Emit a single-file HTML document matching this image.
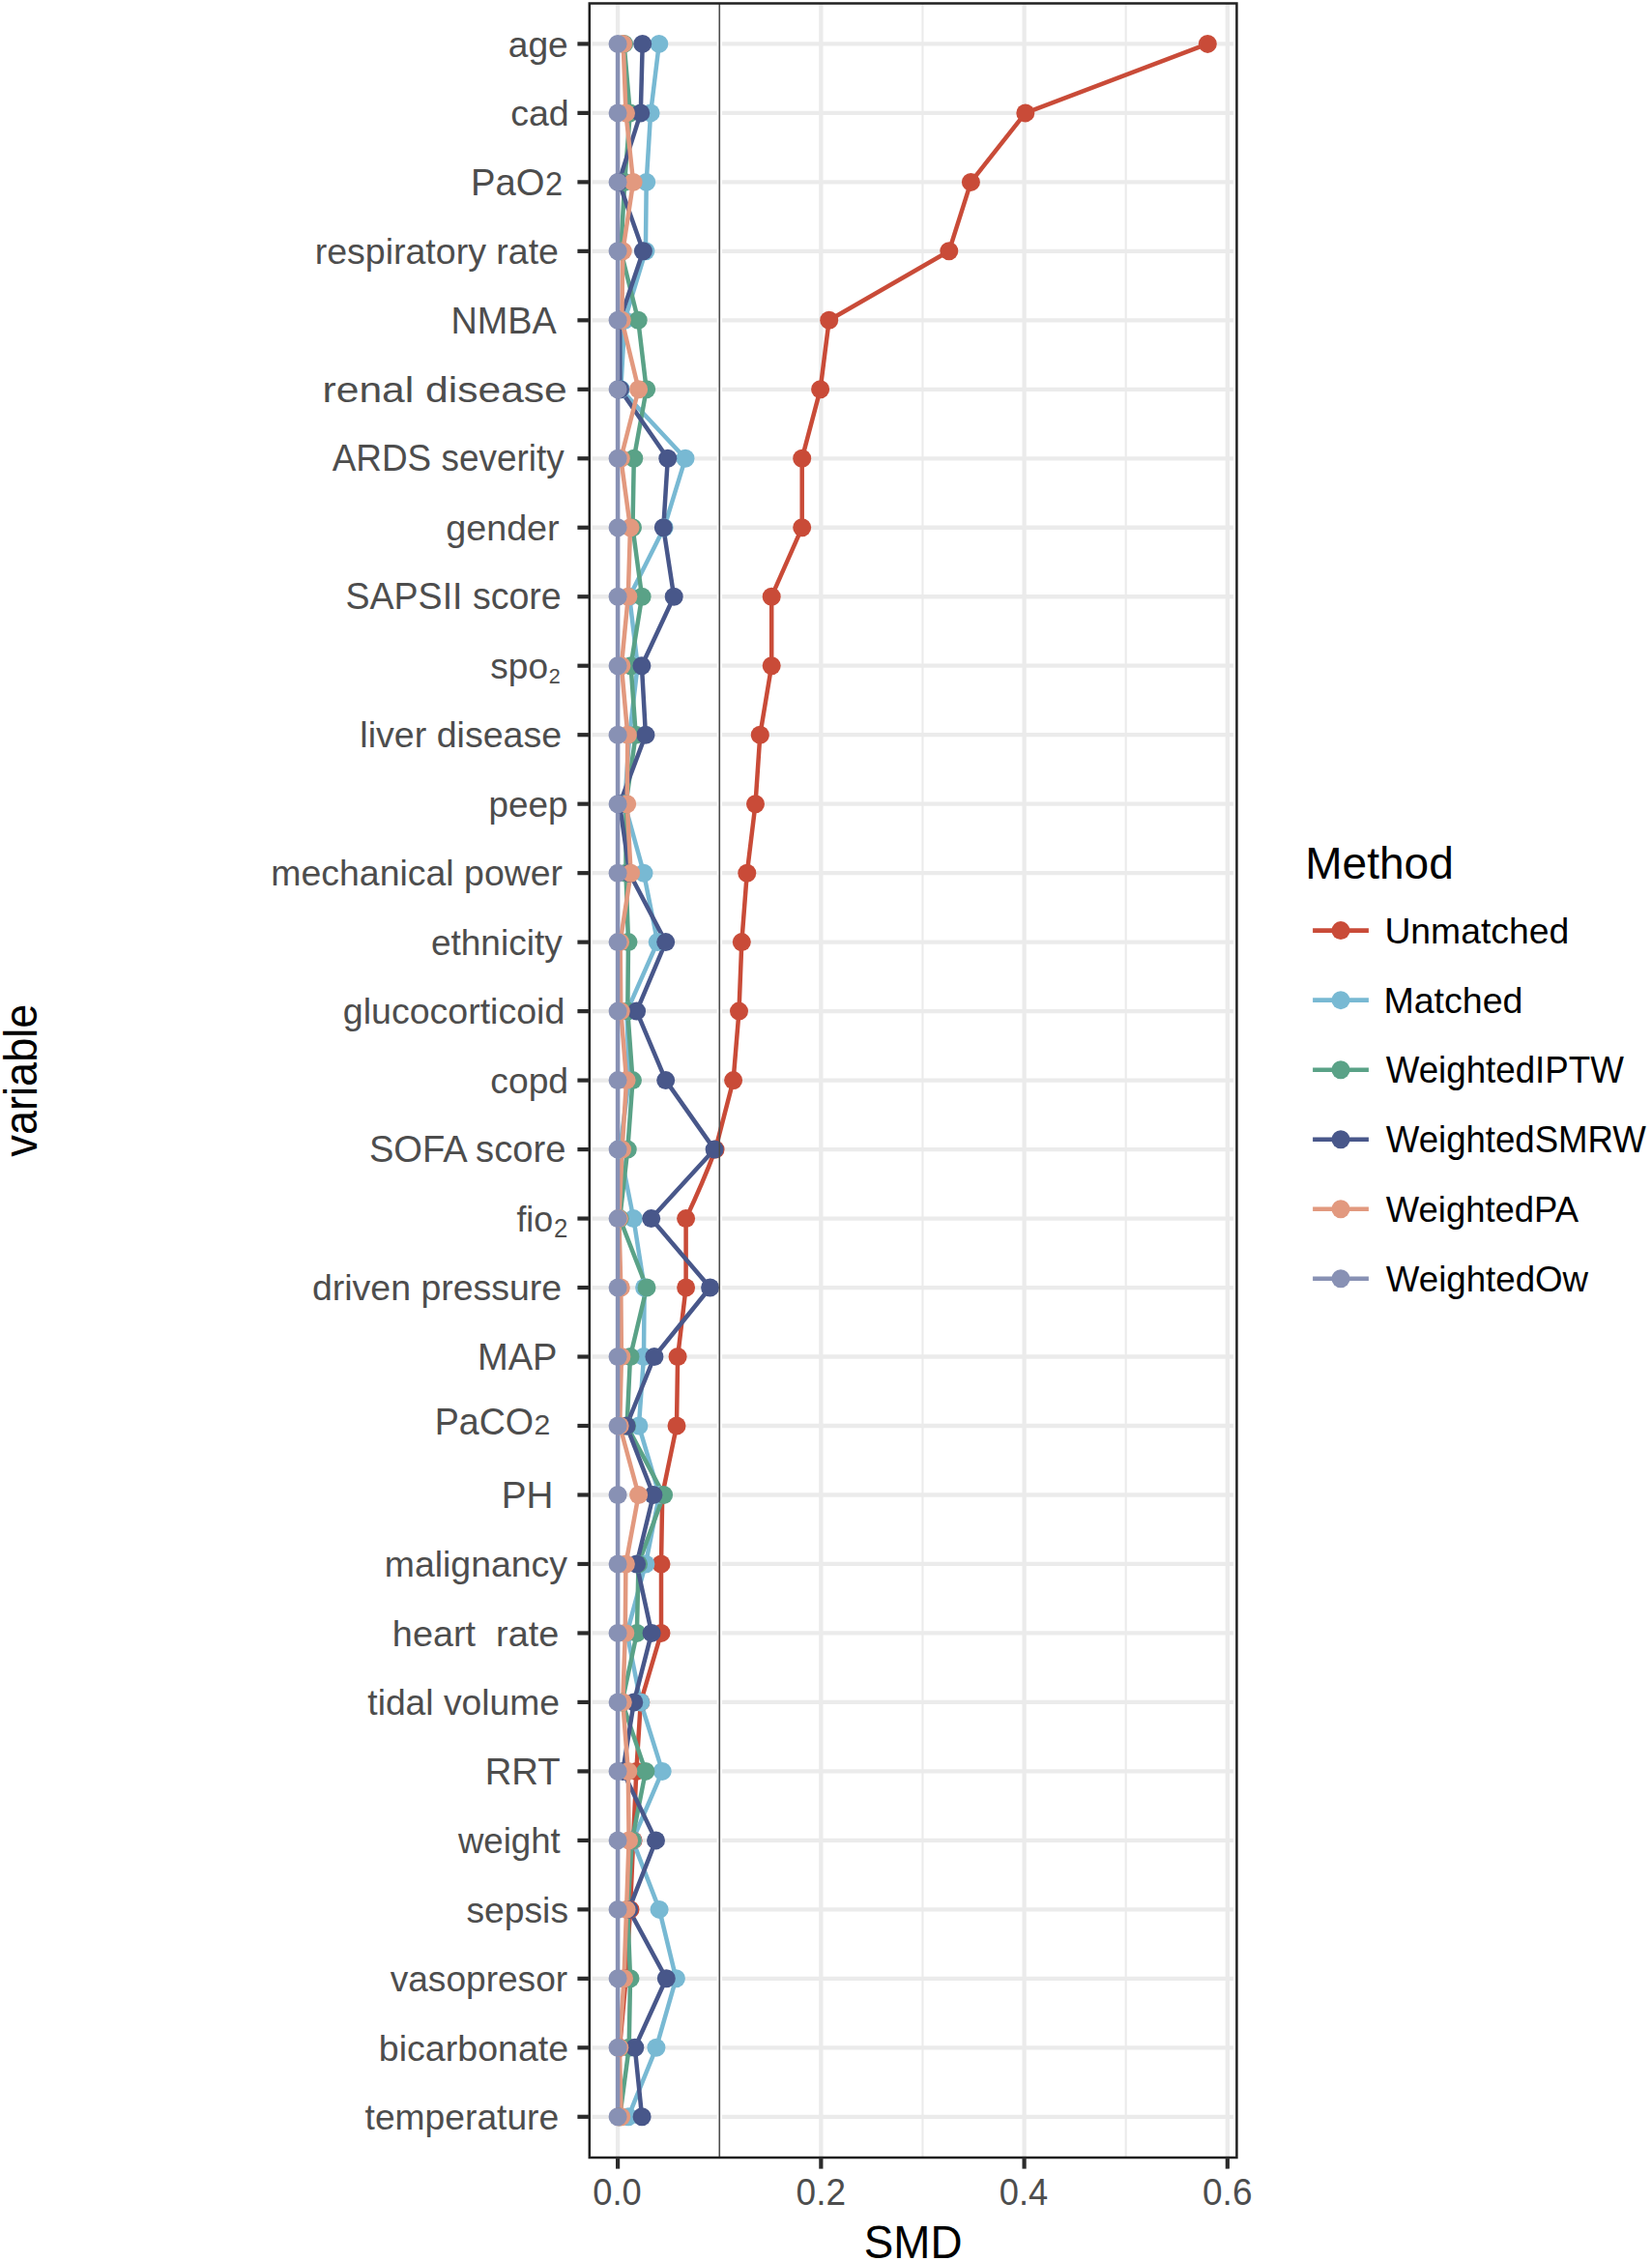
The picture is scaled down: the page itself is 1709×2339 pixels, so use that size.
<!DOCTYPE html>
<html lang="en"><head><meta charset="utf-8"><title>SMD balance plot</title>
<style>html,body{margin:0;padding:0;background:#fff}body{width:1709px;height:2339px;overflow:hidden}</style>
</head><body>
<svg width="1709" height="2339" viewBox="0 0 1709 2339" font-family='"Liberation Sans", Arial, sans-serif' style="display:block">
<rect width="1709" height="2339" fill="#fff"/>
<g stroke="#EBEBEB" fill="none">
<line x1="744.22" x2="744.22" y1="3.5" y2="2232.0" stroke-width="2.1"/>
<line x1="954.46" x2="954.46" y1="3.5" y2="2232.0" stroke-width="2.1"/>
<line x1="1164.70" x2="1164.70" y1="3.5" y2="2232.0" stroke-width="2.1"/>
<line x1="639.10" x2="639.10" y1="3.5" y2="2232.0" stroke-width="4.3"/>
<line x1="849.34" x2="849.34" y1="3.5" y2="2232.0" stroke-width="4.3"/>
<line x1="1059.58" x2="1059.58" y1="3.5" y2="2232.0" stroke-width="4.3"/>
<line x1="1269.82" x2="1269.82" y1="3.5" y2="2232.0" stroke-width="4.3"/>
<path d="M612.8 45.40H741.6M747.1 45.40H1275.8" stroke-width="4.3"/>
<path d="M612.8 116.88H741.6M747.1 116.88H1275.8" stroke-width="4.3"/>
<path d="M612.8 188.36H741.6M747.1 188.36H1275.8" stroke-width="4.3"/>
<path d="M612.8 259.84H741.6M747.1 259.84H1275.8" stroke-width="4.3"/>
<path d="M612.8 331.32H741.6M747.1 331.32H1275.8" stroke-width="4.3"/>
<path d="M612.8 402.80H741.6M747.1 402.80H1275.8" stroke-width="4.3"/>
<path d="M612.8 474.28H741.6M747.1 474.28H1275.8" stroke-width="4.3"/>
<path d="M612.8 545.76H741.6M747.1 545.76H1275.8" stroke-width="4.3"/>
<path d="M612.8 617.24H741.6M747.1 617.24H1275.8" stroke-width="4.3"/>
<path d="M612.8 688.72H741.6M747.1 688.72H1275.8" stroke-width="4.3"/>
<path d="M612.8 760.20H741.6M747.1 760.20H1275.8" stroke-width="4.3"/>
<path d="M612.8 831.68H741.6M747.1 831.68H1275.8" stroke-width="4.3"/>
<path d="M612.8 903.16H741.6M747.1 903.16H1275.8" stroke-width="4.3"/>
<path d="M612.8 974.64H741.6M747.1 974.64H1275.8" stroke-width="4.3"/>
<path d="M612.8 1046.12H741.6M747.1 1046.12H1275.8" stroke-width="4.3"/>
<path d="M612.8 1117.60H741.6M747.1 1117.60H1275.8" stroke-width="4.3"/>
<path d="M612.8 1189.08H741.6M747.1 1189.08H1275.8" stroke-width="4.3"/>
<path d="M612.8 1260.56H741.6M747.1 1260.56H1275.8" stroke-width="4.3"/>
<path d="M612.8 1332.04H741.6M747.1 1332.04H1275.8" stroke-width="4.3"/>
<path d="M612.8 1403.52H741.6M747.1 1403.52H1275.8" stroke-width="4.3"/>
<path d="M612.8 1475.00H741.6M747.1 1475.00H1275.8" stroke-width="4.3"/>
<path d="M612.8 1546.48H741.6M747.1 1546.48H1275.8" stroke-width="4.3"/>
<path d="M612.8 1617.96H741.6M747.1 1617.96H1275.8" stroke-width="4.3"/>
<path d="M612.8 1689.44H741.6M747.1 1689.44H1275.8" stroke-width="4.3"/>
<path d="M612.8 1760.92H741.6M747.1 1760.92H1275.8" stroke-width="4.3"/>
<path d="M612.8 1832.40H741.6M747.1 1832.40H1275.8" stroke-width="4.3"/>
<path d="M612.8 1903.88H741.6M747.1 1903.88H1275.8" stroke-width="4.3"/>
<path d="M612.8 1975.36H741.6M747.1 1975.36H1275.8" stroke-width="4.3"/>
<path d="M612.8 2046.84H741.6M747.1 2046.84H1275.8" stroke-width="4.3"/>
<path d="M612.8 2118.32H741.6M747.1 2118.32H1275.8" stroke-width="4.3"/>
<path d="M612.8 2189.80H741.6M747.1 2189.80H1275.8" stroke-width="4.3"/>
</g>
<path d="M1249.3 45.4L1060.8 116.9L1004.4 188.4L981.8 259.8L857.7 331.3L848.6 402.8L829.7 474.3L829.7 545.8L798.2 617.2L798.2 688.7L786.3 760.2L781.5 831.7L772.8 903.2L767.3 974.6L764.5 1046.1L758.6 1117.6L740.1 1189.1Q726.9 1224.0 709.6 1260.6L709.6 1332.0L701.1 1403.5L700.0 1475.0L685.2 1546.5L684.0 1618.0L684.0 1689.4L662.8 1760.9L658.3 1832.4L655.1 1903.9L652.0 1975.4L647.5 2046.8L641.0 2118.3L640.2 2189.8" fill="none" stroke="#C94B38" stroke-width="4.5" stroke-linejoin="round" stroke-linecap="butt"/>
<path d="M681.8 45.4L673.1 116.9L668.7 188.4L667.9 259.8L646.2 331.3L642.3 402.8L709.0 474.3L687.1 545.8L651.2 617.2L659.6 688.7L651.2 760.2L646.2 831.7L666.0 903.2L680.2 974.6L648.6 1046.1L650.7 1117.6L641.2 1189.1L655.4 1260.6L666.6 1332.0L666.0 1403.5L660.9 1475.0L682.1 1546.5L667.9 1618.0L648.6 1689.4L662.8 1760.9L685.2 1832.4L654.5 1903.9L682.1 1975.4L699.4 2046.8L678.9 2118.3L650.0 2189.8" fill="none" stroke="#78B9D3" stroke-width="4.5" stroke-linejoin="round" stroke-linecap="butt"/>
<path d="M645.6 45.4L651.8 116.9L646.2 188.4L642.3 259.8L660.2 331.3L668.7 402.8L655.8 474.3L654.5 545.8L664.1 617.2L652.6 688.7L657.7 760.2L647.5 831.7L647.5 903.2L650.0 974.6L649.3 1046.1L654.5 1117.6L649.3 1189.1L641.2 1260.6L669.0 1332.0L652.0 1403.5L648.6 1475.0L686.6 1546.5L660.5 1618.0L658.9 1689.4L643.6 1760.9L667.9 1832.4L653.9 1903.9L649.3 1975.4L652.0 2046.8L650.7 2118.3L641.2 2189.8" fill="none" stroke="#5AA287" stroke-width="4.5" stroke-linejoin="round" stroke-linecap="butt"/>
<path d="M664.7 45.4L662.8 116.9L640.2 188.4L665.4 259.8L641.2 331.3L641.4 402.8L690.8 474.3L686.3 545.8L697.2 617.2L663.9 688.7L667.9 760.2L641.0 831.7L651.2 903.2L688.7 974.6L658.6 1046.1L688.7 1117.6L739.1 1189.1L673.7 1260.6L734.6 1332.0L676.9 1403.5L648.1 1475.0L675.9 1546.5L658.6 1618.0L674.1 1689.4L655.8 1760.9L644.3 1832.4L678.5 1903.9L650.6 1975.4L689.3 2046.8L656.8 2118.3L664.1 2189.8" fill="none" stroke="#48578A" stroke-width="4.5" stroke-linejoin="round" stroke-linecap="butt"/>
<path d="M644.7 45.4L647.5 116.9L655.1 188.4L644.3 259.8L643.3 331.3L660.6 402.8L642.3 474.3L652.0 545.8L649.8 617.2L642.9 688.7L649.3 760.2L648.7 831.7L652.6 903.2L641.6 974.6L642.3 1046.1L648.1 1117.6L643.6 1189.1L640.4 1260.6L642.3 1332.0L642.9 1403.5L641.2 1475.0L660.6 1546.5L647.4 1618.0L646.8 1689.4L644.3 1760.9L649.8 1832.4L650.6 1903.9L648.1 1975.4L645.5 2046.8L640.8 2118.3L642.7 2189.8" fill="none" stroke="#E2997F" stroke-width="4.5" stroke-linejoin="round" stroke-linecap="butt"/>
<path d="M639.1 45.4L639.1 116.9L639.1 188.4L639.1 259.8L639.1 331.3L639.1 402.8L639.1 474.3L639.1 545.8L639.1 617.2L639.1 688.7L639.1 760.2L639.1 831.7L639.1 903.2L639.1 974.6L639.1 1046.1L639.1 1117.6L639.1 1189.1L639.1 1260.6L639.1 1332.0L639.1 1403.5L639.1 1475.0L639.1 1546.5L639.1 1618.0L639.1 1689.4L639.1 1760.9L639.1 1832.4L639.1 1903.9L639.1 1975.4L639.1 2046.8L639.1 2118.3L639.1 2189.8" fill="none" stroke="#8891B4" stroke-width="4.5" stroke-linejoin="round" stroke-linecap="butt"/>
<g fill="#C94B38">
<circle cx="1249.3" cy="45.4" r="9.5"/>
<circle cx="1060.8" cy="116.9" r="9.5"/>
<circle cx="1004.4" cy="188.4" r="9.5"/>
<circle cx="981.8" cy="259.8" r="9.5"/>
<circle cx="857.7" cy="331.3" r="9.5"/>
<circle cx="848.6" cy="402.8" r="9.5"/>
<circle cx="829.7" cy="474.3" r="9.5"/>
<circle cx="829.7" cy="545.8" r="9.5"/>
<circle cx="798.2" cy="617.2" r="9.5"/>
<circle cx="798.2" cy="688.7" r="9.5"/>
<circle cx="786.3" cy="760.2" r="9.5"/>
<circle cx="781.5" cy="831.7" r="9.5"/>
<circle cx="772.8" cy="903.2" r="9.5"/>
<circle cx="767.3" cy="974.6" r="9.5"/>
<circle cx="764.5" cy="1046.1" r="9.5"/>
<circle cx="758.6" cy="1117.6" r="9.5"/>
<circle cx="740.1" cy="1189.1" r="9.5"/>
<circle cx="709.6" cy="1260.6" r="9.5"/>
<circle cx="709.6" cy="1332.0" r="9.5"/>
<circle cx="701.1" cy="1403.5" r="9.5"/>
<circle cx="700.0" cy="1475.0" r="9.5"/>
<circle cx="685.2" cy="1546.5" r="9.5"/>
<circle cx="684.0" cy="1618.0" r="9.5"/>
<circle cx="684.0" cy="1689.4" r="9.5"/>
<circle cx="662.8" cy="1760.9" r="9.5"/>
<circle cx="658.3" cy="1832.4" r="9.5"/>
<circle cx="655.1" cy="1903.9" r="9.5"/>
<circle cx="652.0" cy="1975.4" r="9.5"/>
<circle cx="647.5" cy="2046.8" r="9.5"/>
<circle cx="641.0" cy="2118.3" r="9.5"/>
<circle cx="640.2" cy="2189.8" r="9.5"/>
</g>
<g fill="#78B9D3">
<circle cx="681.8" cy="45.4" r="9.5"/>
<circle cx="673.1" cy="116.9" r="9.5"/>
<circle cx="668.7" cy="188.4" r="9.5"/>
<circle cx="667.9" cy="259.8" r="9.5"/>
<circle cx="646.2" cy="331.3" r="9.5"/>
<circle cx="642.3" cy="402.8" r="9.5"/>
<circle cx="709.0" cy="474.3" r="9.5"/>
<circle cx="687.1" cy="545.8" r="9.5"/>
<circle cx="651.2" cy="617.2" r="9.5"/>
<circle cx="659.6" cy="688.7" r="9.5"/>
<circle cx="651.2" cy="760.2" r="9.5"/>
<circle cx="646.2" cy="831.7" r="9.5"/>
<circle cx="666.0" cy="903.2" r="9.5"/>
<circle cx="680.2" cy="974.6" r="9.5"/>
<circle cx="648.6" cy="1046.1" r="9.5"/>
<circle cx="650.7" cy="1117.6" r="9.5"/>
<circle cx="641.2" cy="1189.1" r="9.5"/>
<circle cx="655.4" cy="1260.6" r="9.5"/>
<circle cx="666.6" cy="1332.0" r="9.5"/>
<circle cx="666.0" cy="1403.5" r="9.5"/>
<circle cx="660.9" cy="1475.0" r="9.5"/>
<circle cx="682.1" cy="1546.5" r="9.5"/>
<circle cx="667.9" cy="1618.0" r="9.5"/>
<circle cx="648.6" cy="1689.4" r="9.5"/>
<circle cx="662.8" cy="1760.9" r="9.5"/>
<circle cx="685.2" cy="1832.4" r="9.5"/>
<circle cx="654.5" cy="1903.9" r="9.5"/>
<circle cx="682.1" cy="1975.4" r="9.5"/>
<circle cx="699.4" cy="2046.8" r="9.5"/>
<circle cx="678.9" cy="2118.3" r="9.5"/>
<circle cx="650.0" cy="2189.8" r="9.5"/>
</g>
<g fill="#5AA287">
<circle cx="645.6" cy="45.4" r="9.5"/>
<circle cx="651.8" cy="116.9" r="9.5"/>
<circle cx="646.2" cy="188.4" r="9.5"/>
<circle cx="642.3" cy="259.8" r="9.5"/>
<circle cx="660.2" cy="331.3" r="9.5"/>
<circle cx="668.7" cy="402.8" r="9.5"/>
<circle cx="655.8" cy="474.3" r="9.5"/>
<circle cx="654.5" cy="545.8" r="9.5"/>
<circle cx="664.1" cy="617.2" r="9.5"/>
<circle cx="652.6" cy="688.7" r="9.5"/>
<circle cx="657.7" cy="760.2" r="9.5"/>
<circle cx="647.5" cy="831.7" r="9.5"/>
<circle cx="647.5" cy="903.2" r="9.5"/>
<circle cx="650.0" cy="974.6" r="9.5"/>
<circle cx="649.3" cy="1046.1" r="9.5"/>
<circle cx="654.5" cy="1117.6" r="9.5"/>
<circle cx="649.3" cy="1189.1" r="9.5"/>
<circle cx="641.2" cy="1260.6" r="9.5"/>
<circle cx="669.0" cy="1332.0" r="9.5"/>
<circle cx="652.0" cy="1403.5" r="9.5"/>
<circle cx="648.6" cy="1475.0" r="9.5"/>
<circle cx="686.6" cy="1546.5" r="9.5"/>
<circle cx="660.5" cy="1618.0" r="9.5"/>
<circle cx="658.9" cy="1689.4" r="9.5"/>
<circle cx="643.6" cy="1760.9" r="9.5"/>
<circle cx="667.9" cy="1832.4" r="9.5"/>
<circle cx="653.9" cy="1903.9" r="9.5"/>
<circle cx="649.3" cy="1975.4" r="9.5"/>
<circle cx="652.0" cy="2046.8" r="9.5"/>
<circle cx="650.7" cy="2118.3" r="9.5"/>
<circle cx="641.2" cy="2189.8" r="9.5"/>
</g>
<g fill="#48578A">
<circle cx="664.7" cy="45.4" r="9.5"/>
<circle cx="662.8" cy="116.9" r="9.5"/>
<circle cx="640.2" cy="188.4" r="9.5"/>
<circle cx="665.4" cy="259.8" r="9.5"/>
<circle cx="641.2" cy="331.3" r="9.5"/>
<circle cx="641.4" cy="402.8" r="9.5"/>
<circle cx="690.8" cy="474.3" r="9.5"/>
<circle cx="686.3" cy="545.8" r="9.5"/>
<circle cx="697.2" cy="617.2" r="9.5"/>
<circle cx="663.9" cy="688.7" r="9.5"/>
<circle cx="667.9" cy="760.2" r="9.5"/>
<circle cx="641.0" cy="831.7" r="9.5"/>
<circle cx="651.2" cy="903.2" r="9.5"/>
<circle cx="688.7" cy="974.6" r="9.5"/>
<circle cx="658.6" cy="1046.1" r="9.5"/>
<circle cx="688.7" cy="1117.6" r="9.5"/>
<circle cx="739.1" cy="1189.1" r="9.5"/>
<circle cx="673.7" cy="1260.6" r="9.5"/>
<circle cx="734.6" cy="1332.0" r="9.5"/>
<circle cx="676.9" cy="1403.5" r="9.5"/>
<circle cx="648.1" cy="1475.0" r="9.5"/>
<circle cx="675.9" cy="1546.5" r="9.5"/>
<circle cx="658.6" cy="1618.0" r="9.5"/>
<circle cx="674.1" cy="1689.4" r="9.5"/>
<circle cx="655.8" cy="1760.9" r="9.5"/>
<circle cx="644.3" cy="1832.4" r="9.5"/>
<circle cx="678.5" cy="1903.9" r="9.5"/>
<circle cx="650.6" cy="1975.4" r="9.5"/>
<circle cx="689.3" cy="2046.8" r="9.5"/>
<circle cx="656.8" cy="2118.3" r="9.5"/>
<circle cx="664.1" cy="2189.8" r="9.5"/>
</g>
<g fill="#E2997F">
<circle cx="644.7" cy="45.4" r="9.5"/>
<circle cx="647.5" cy="116.9" r="9.5"/>
<circle cx="655.1" cy="188.4" r="9.5"/>
<circle cx="644.3" cy="259.8" r="9.5"/>
<circle cx="643.3" cy="331.3" r="9.5"/>
<circle cx="660.6" cy="402.8" r="9.5"/>
<circle cx="642.3" cy="474.3" r="9.5"/>
<circle cx="652.0" cy="545.8" r="9.5"/>
<circle cx="649.8" cy="617.2" r="9.5"/>
<circle cx="642.9" cy="688.7" r="9.5"/>
<circle cx="649.3" cy="760.2" r="9.5"/>
<circle cx="648.7" cy="831.7" r="9.5"/>
<circle cx="652.6" cy="903.2" r="9.5"/>
<circle cx="641.6" cy="974.6" r="9.5"/>
<circle cx="642.3" cy="1046.1" r="9.5"/>
<circle cx="648.1" cy="1117.6" r="9.5"/>
<circle cx="643.6" cy="1189.1" r="9.5"/>
<circle cx="640.4" cy="1260.6" r="9.5"/>
<circle cx="642.3" cy="1332.0" r="9.5"/>
<circle cx="642.9" cy="1403.5" r="9.5"/>
<circle cx="641.2" cy="1475.0" r="9.5"/>
<circle cx="660.6" cy="1546.5" r="9.5"/>
<circle cx="647.4" cy="1618.0" r="9.5"/>
<circle cx="646.8" cy="1689.4" r="9.5"/>
<circle cx="644.3" cy="1760.9" r="9.5"/>
<circle cx="649.8" cy="1832.4" r="9.5"/>
<circle cx="650.6" cy="1903.9" r="9.5"/>
<circle cx="648.1" cy="1975.4" r="9.5"/>
<circle cx="645.5" cy="2046.8" r="9.5"/>
<circle cx="640.8" cy="2118.3" r="9.5"/>
<circle cx="642.7" cy="2189.8" r="9.5"/>
</g>
<g fill="#8891B4">
<circle cx="639.1" cy="45.4" r="9.5"/>
<circle cx="639.1" cy="116.9" r="9.5"/>
<circle cx="639.1" cy="188.4" r="9.5"/>
<circle cx="639.1" cy="259.8" r="9.5"/>
<circle cx="639.1" cy="331.3" r="9.5"/>
<circle cx="639.1" cy="402.8" r="9.5"/>
<circle cx="639.1" cy="474.3" r="9.5"/>
<circle cx="639.1" cy="545.8" r="9.5"/>
<circle cx="639.1" cy="617.2" r="9.5"/>
<circle cx="639.1" cy="688.7" r="9.5"/>
<circle cx="639.1" cy="760.2" r="9.5"/>
<circle cx="639.1" cy="831.7" r="9.5"/>
<circle cx="639.1" cy="903.2" r="9.5"/>
<circle cx="639.1" cy="974.6" r="9.5"/>
<circle cx="639.1" cy="1046.1" r="9.5"/>
<circle cx="639.1" cy="1117.6" r="9.5"/>
<circle cx="639.1" cy="1189.1" r="9.5"/>
<circle cx="639.1" cy="1260.6" r="9.5"/>
<circle cx="639.1" cy="1332.0" r="9.5"/>
<circle cx="639.1" cy="1403.5" r="9.5"/>
<circle cx="639.1" cy="1475.0" r="9.5"/>
<circle cx="639.1" cy="1546.5" r="9.5"/>
<circle cx="639.1" cy="1618.0" r="9.5"/>
<circle cx="639.1" cy="1689.4" r="9.5"/>
<circle cx="639.1" cy="1760.9" r="9.5"/>
<circle cx="639.1" cy="1832.4" r="9.5"/>
<circle cx="639.1" cy="1903.9" r="9.5"/>
<circle cx="639.1" cy="1975.4" r="9.5"/>
<circle cx="639.1" cy="2046.8" r="9.5"/>
<circle cx="639.1" cy="2118.3" r="9.5"/>
<circle cx="639.1" cy="2189.8" r="9.5"/>
</g>
<line x1="744.3" x2="744.3" y1="3.5" y2="2232.0" stroke="#4c4c4c" stroke-width="1.5"/>
<rect x="609.8" y="3.5" width="669.60" height="2228.50" fill="none" stroke="#202020" stroke-width="2.5"/>
<g stroke="#2b2b2b" stroke-width="4.2">
<line x1="597.4" x2="609.8" y1="45.40" y2="45.40"/>
<line x1="597.4" x2="609.8" y1="116.88" y2="116.88"/>
<line x1="597.4" x2="609.8" y1="188.36" y2="188.36"/>
<line x1="597.4" x2="609.8" y1="259.84" y2="259.84"/>
<line x1="597.4" x2="609.8" y1="331.32" y2="331.32"/>
<line x1="597.4" x2="609.8" y1="402.80" y2="402.80"/>
<line x1="597.4" x2="609.8" y1="474.28" y2="474.28"/>
<line x1="597.4" x2="609.8" y1="545.76" y2="545.76"/>
<line x1="597.4" x2="609.8" y1="617.24" y2="617.24"/>
<line x1="597.4" x2="609.8" y1="688.72" y2="688.72"/>
<line x1="597.4" x2="609.8" y1="760.20" y2="760.20"/>
<line x1="597.4" x2="609.8" y1="831.68" y2="831.68"/>
<line x1="597.4" x2="609.8" y1="903.16" y2="903.16"/>
<line x1="597.4" x2="609.8" y1="974.64" y2="974.64"/>
<line x1="597.4" x2="609.8" y1="1046.12" y2="1046.12"/>
<line x1="597.4" x2="609.8" y1="1117.60" y2="1117.60"/>
<line x1="597.4" x2="609.8" y1="1189.08" y2="1189.08"/>
<line x1="597.4" x2="609.8" y1="1260.56" y2="1260.56"/>
<line x1="597.4" x2="609.8" y1="1332.04" y2="1332.04"/>
<line x1="597.4" x2="609.8" y1="1403.52" y2="1403.52"/>
<line x1="597.4" x2="609.8" y1="1475.00" y2="1475.00"/>
<line x1="597.4" x2="609.8" y1="1546.48" y2="1546.48"/>
<line x1="597.4" x2="609.8" y1="1617.96" y2="1617.96"/>
<line x1="597.4" x2="609.8" y1="1689.44" y2="1689.44"/>
<line x1="597.4" x2="609.8" y1="1760.92" y2="1760.92"/>
<line x1="597.4" x2="609.8" y1="1832.40" y2="1832.40"/>
<line x1="597.4" x2="609.8" y1="1903.88" y2="1903.88"/>
<line x1="597.4" x2="609.8" y1="1975.36" y2="1975.36"/>
<line x1="597.4" x2="609.8" y1="2046.84" y2="2046.84"/>
<line x1="597.4" x2="609.8" y1="2118.32" y2="2118.32"/>
<line x1="597.4" x2="609.8" y1="2189.80" y2="2189.80"/>
<line x1="639.10" x2="639.10" y1="2232.0" y2="2243.6"/>
<line x1="849.34" x2="849.34" y1="2232.0" y2="2243.6"/>
<line x1="1059.58" x2="1059.58" y1="2232.0" y2="2243.6"/>
<line x1="1269.82" x2="1269.82" y1="2232.0" y2="2243.6"/>
</g>
<g>
<text x="525.81" y="58.60" font-size="37.4" fill="#4D4D4D" textLength="61.88" lengthAdjust="spacingAndGlyphs" style="white-space:pre">age</text>
<text x="528.20" y="130.08" font-size="37.4" fill="#4D4D4D" textLength="60.51" lengthAdjust="spacingAndGlyphs" style="white-space:pre">cad</text>
<text fill="#4D4D4D" style="white-space:pre"><tspan x="487.01" y="201.56" font-size="38.4" textLength="76.44" lengthAdjust="spacingAndGlyphs">PaO</tspan><tspan x="563.95" y="201.56" font-size="34.4" textLength="18.11" lengthAdjust="spacingAndGlyphs">2</tspan></text>
<text x="325.69" y="273.04" font-size="37.4" fill="#4D4D4D" textLength="252.30" lengthAdjust="spacingAndGlyphs" style="white-space:pre">respiratory rate</text>
<text x="466.38" y="344.52" font-size="38.9" fill="#4D4D4D" textLength="109.26" lengthAdjust="spacingAndGlyphs" style="white-space:pre">NMBA</text>
<text x="333.62" y="416.00" font-size="37.4" fill="#4D4D4D" textLength="253.18" lengthAdjust="spacingAndGlyphs" style="white-space:pre">renal disease</text>
<text x="343.70" y="487.48" font-size="37.9" fill="#4D4D4D" textLength="239.95" lengthAdjust="spacingAndGlyphs" style="white-space:pre">ARDS severity</text>
<text x="461.29" y="558.96" font-size="37.4" fill="#4D4D4D" textLength="117.36" lengthAdjust="spacingAndGlyphs" style="white-space:pre">gender</text>
<text x="357.52" y="630.44" font-size="38.22" fill="#4D4D4D" textLength="223.22" lengthAdjust="spacingAndGlyphs" style="white-space:pre">SAPSII score</text>
<text fill="#4D4D4D" style="white-space:pre"><tspan x="507.31" y="701.92" font-size="37.4" textLength="59.68" lengthAdjust="spacingAndGlyphs">spo</tspan><tspan x="567.72" y="707.22" font-size="22.0" textLength="12.01" lengthAdjust="spacingAndGlyphs">2</tspan></text>
<text x="372.39" y="773.40" font-size="37.4" fill="#4D4D4D" textLength="208.71" lengthAdjust="spacingAndGlyphs" style="white-space:pre">liver disease</text>
<text x="505.53" y="844.88" font-size="37.4" fill="#4D4D4D" textLength="81.95" lengthAdjust="spacingAndGlyphs" style="white-space:pre">peep</text>
<text x="280.30" y="916.36" font-size="37.4" fill="#4D4D4D" textLength="301.75" lengthAdjust="spacingAndGlyphs" style="white-space:pre">mechanical power</text>
<text x="445.91" y="987.84" font-size="37.4" fill="#4D4D4D" textLength="135.79" lengthAdjust="spacingAndGlyphs" style="white-space:pre">ethnicity</text>
<text x="354.80" y="1059.32" font-size="37.4" fill="#4D4D4D" textLength="229.51" lengthAdjust="spacingAndGlyphs" style="white-space:pre">glucocorticoid</text>
<text x="507.30" y="1130.80" font-size="37.4" fill="#4D4D4D" textLength="80.78" lengthAdjust="spacingAndGlyphs" style="white-space:pre">copd</text>
<text x="381.91" y="1202.28" font-size="38.06" fill="#4D4D4D" textLength="203.44" lengthAdjust="spacingAndGlyphs" style="white-space:pre">SOFA score</text>
<text fill="#4D4D4D" style="white-space:pre"><tspan x="534.40" y="1273.76" font-size="37.4" textLength="37.76" lengthAdjust="spacingAndGlyphs">fio</tspan><tspan x="573.05" y="1279.76" font-size="27.2" textLength="14.31" lengthAdjust="spacingAndGlyphs">2</tspan></text>
<text x="323.00" y="1345.24" font-size="37.4" fill="#4D4D4D" textLength="258.10" lengthAdjust="spacingAndGlyphs" style="white-space:pre">driven pressure</text>
<text x="493.96" y="1416.72" font-size="38.9" fill="#4D4D4D" textLength="82.54" lengthAdjust="spacingAndGlyphs" style="white-space:pre">MAP</text>
<text fill="#4D4D4D" style="white-space:pre"><tspan x="449.67" y="1484.10" font-size="38.52" textLength="102.47" lengthAdjust="spacingAndGlyphs">PaCO</tspan><tspan x="552.48" y="1484.10" font-size="29.6" textLength="16.81" lengthAdjust="spacingAndGlyphs">2</tspan></text>
<text x="518.72" y="1559.68" font-size="38.9" fill="#4D4D4D" textLength="53.64" lengthAdjust="spacingAndGlyphs" style="white-space:pre">PH</text>
<text x="397.80" y="1631.16" font-size="37.4" fill="#4D4D4D" textLength="189.20" lengthAdjust="spacingAndGlyphs" style="white-space:pre">malignancy</text>
<text x="405.88" y="1702.64" font-size="37.4" fill="#4D4D4D" textLength="172.33" lengthAdjust="spacingAndGlyphs" style="white-space:pre">heart  rate</text>
<text x="380.30" y="1774.12" font-size="37.4" fill="#4D4D4D" textLength="198.69" lengthAdjust="spacingAndGlyphs" style="white-space:pre">tidal volume</text>
<text x="501.75" y="1845.60" font-size="38.9" fill="#4D4D4D" textLength="77.89" lengthAdjust="spacingAndGlyphs" style="white-space:pre">RRT</text>
<text x="473.88" y="1917.08" font-size="37.4" fill="#4D4D4D" textLength="105.82" lengthAdjust="spacingAndGlyphs" style="white-space:pre">weight</text>
<text x="482.50" y="1988.56" font-size="37.4" fill="#4D4D4D" textLength="105.49" lengthAdjust="spacingAndGlyphs" style="white-space:pre">sepsis</text>
<text x="403.70" y="2060.04" font-size="37.4" fill="#4D4D4D" textLength="183.45" lengthAdjust="spacingAndGlyphs" style="white-space:pre">vasopresor</text>
<text x="391.89" y="2131.52" font-size="37.4" fill="#4D4D4D" textLength="196.21" lengthAdjust="spacingAndGlyphs" style="white-space:pre">bicarbonate</text>
<text x="377.60" y="2203.00" font-size="37.4" fill="#4D4D4D" textLength="200.59" lengthAdjust="spacingAndGlyphs" style="white-space:pre">temperature</text>
</g>
<text x="613.37" y="2280.50" font-size="38.9" fill="#4D4D4D" textLength="50.42" lengthAdjust="spacingAndGlyphs" style="white-space:pre">0.0</text>
<text x="823.59" y="2280.50" font-size="38.9" fill="#4D4D4D" textLength="51.40" lengthAdjust="spacingAndGlyphs" style="white-space:pre">0.2</text>
<text x="1033.85" y="2280.50" font-size="38.9" fill="#4D4D4D" textLength="50.42" lengthAdjust="spacingAndGlyphs" style="white-space:pre">0.4</text>
<text x="1244.07" y="2280.50" font-size="38.9" fill="#4D4D4D" textLength="51.40" lengthAdjust="spacingAndGlyphs" style="white-space:pre">0.6</text>
<text x="893.81" y="2335.60" font-size="48.36" fill="#000" textLength="101.71" lengthAdjust="spacingAndGlyphs" style="white-space:pre">SMD</text>
<text transform="translate(37.5,1196.65) rotate(-90)" x="0.00" y="0" font-size="47.6" fill="#000" textLength="158.09" lengthAdjust="spacingAndGlyphs">variable</text>
<text x="1350.25" y="909.30" font-size="46.81" fill="#000" textLength="153.54" lengthAdjust="spacingAndGlyphs" style="white-space:pre">Method</text>
<line x1="1358.1" x2="1415.9" y1="962.60" y2="962.60" stroke="#C94B38" stroke-width="4.6"/>
<circle cx="1387" cy="962.60" r="9.5" fill="#C94B38"/>
<text x="1432.41" y="975.80" font-size="37.57" fill="#000" textLength="190.76" lengthAdjust="spacingAndGlyphs" style="white-space:pre">Unmatched</text>
<line x1="1358.1" x2="1415.9" y1="1034.64" y2="1034.64" stroke="#78B9D3" stroke-width="4.6"/>
<circle cx="1387" cy="1034.64" r="9.5" fill="#78B9D3"/>
<text x="1431.40" y="1047.84" font-size="37.61" fill="#000" textLength="144.11" lengthAdjust="spacingAndGlyphs" style="white-space:pre">Matched</text>
<line x1="1358.1" x2="1415.9" y1="1106.68" y2="1106.68" stroke="#5AA287" stroke-width="4.6"/>
<circle cx="1387" cy="1106.68" r="9.5" fill="#5AA287"/>
<text x="1433.70" y="1119.88" font-size="38.02" fill="#000" textLength="246.19" lengthAdjust="spacingAndGlyphs" style="white-space:pre">WeightedIPTW</text>
<line x1="1358.1" x2="1415.9" y1="1178.72" y2="1178.72" stroke="#48578A" stroke-width="4.6"/>
<circle cx="1387" cy="1178.72" r="9.5" fill="#48578A"/>
<text x="1433.80" y="1191.92" font-size="38.02" fill="#000" textLength="269.09" lengthAdjust="spacingAndGlyphs" style="white-space:pre">WeightedSMRW</text>
<line x1="1358.1" x2="1415.9" y1="1250.76" y2="1250.76" stroke="#E2997F" stroke-width="4.6"/>
<circle cx="1387" cy="1250.76" r="9.5" fill="#E2997F"/>
<text x="1433.80" y="1263.96" font-size="37.85" fill="#000" textLength="199.16" lengthAdjust="spacingAndGlyphs" style="white-space:pre">WeightedPA</text>
<line x1="1358.1" x2="1415.9" y1="1322.80" y2="1322.80" stroke="#8891B4" stroke-width="4.6"/>
<circle cx="1387" cy="1322.80" r="9.5" fill="#8891B4"/>
<text x="1433.80" y="1336.00" font-size="37.7" fill="#000" textLength="209.24" lengthAdjust="spacingAndGlyphs" style="white-space:pre">WeightedOw</text>
</svg>
</body></html>
